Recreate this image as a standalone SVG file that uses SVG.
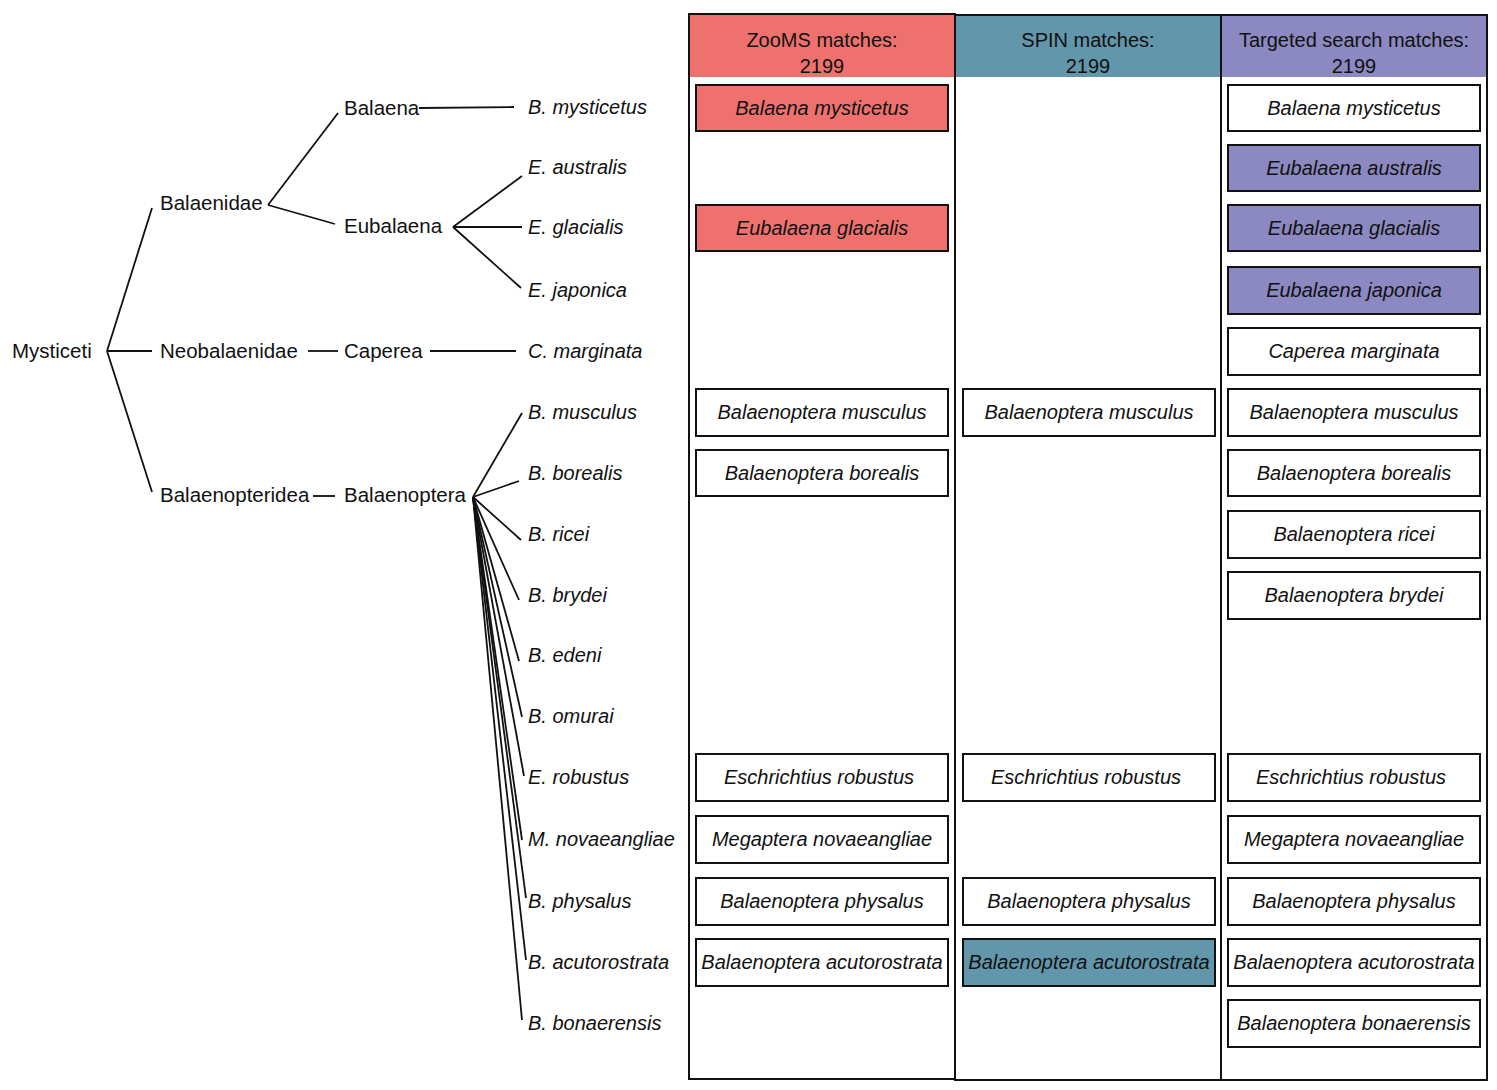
<svg xmlns="http://www.w3.org/2000/svg" width="1497" height="1090" viewBox="0 0 1497 1090">
<style>
.t{font-family:"Liberation Sans",Arial,sans-serif;font-size:20.5px;fill:#111}
.i{font-family:"Liberation Sans",Arial,sans-serif;font-size:20px;font-style:italic;fill:#111;text-anchor:middle}
.lf{font-family:"Liberation Sans",Arial,sans-serif;font-size:20px;font-style:italic;fill:#111}
.h{font-family:"Liberation Sans",Arial,sans-serif;font-size:20px;fill:#111;text-anchor:middle}
.b{stroke:#111;stroke-width:2;fill:#fff}
.r{fill:#EE716D}
.g{fill:#6296AB}
.p{fill:#8C88C1}
.col{fill:none;stroke:#111;stroke-width:2}
.c line{stroke:#111;stroke-width:1.8}
</style>
<rect width="1497" height="1090" fill="#fff"/>
<g id="columns">
<rect x="689" y="15" width="266" height="62" class="r"/>
<rect x="955" y="15" width="266" height="62" class="g"/>
<rect x="1221" y="15" width="266" height="62" class="p"/>
<rect x="689" y="14" width="266" height="1065" class="col"/>
<rect x="955" y="15" width="266" height="1065" class="col"/>
<rect x="1221" y="15" width="266" height="1065" class="col"/>
<text class="h" x="822" y="47">ZooMS matches:</text>
<text class="h" x="822" y="73">2199</text>
<text class="h" x="1088" y="47">SPIN matches:</text>
<text class="h" x="1088" y="73">2199</text>
<text class="h" x="1354" y="47">Targeted search matches:</text>
<text class="h" x="1354" y="73">2199</text>
</g>
<g id="tree-connectors" class="c">
<line x1="107" y1="351" x2="152" y2="208"/>
<line x1="107" y1="351" x2="152" y2="351"/>
<line x1="107" y1="351" x2="152" y2="492"/>
<line x1="268" y1="205" x2="338" y2="113"/>
<line x1="268" y1="205" x2="335" y2="224"/>
<line x1="419" y1="108" x2="514" y2="107"/>
<line x1="453" y1="227" x2="522" y2="176"/>
<line x1="453" y1="227" x2="522" y2="227"/>
<line x1="453" y1="227" x2="521" y2="288"/>
<line x1="308" y1="351" x2="338" y2="351"/>
<line x1="430" y1="351" x2="516" y2="351"/>
<line x1="313" y1="496" x2="335" y2="496"/>
<line x1="473" y1="497" x2="522" y2="413"/>
<line x1="473" y1="497" x2="519" y2="481"/>
<line x1="473" y1="497" x2="521" y2="540"/>
<line x1="473" y1="497" x2="519" y2="600"/>
<line x1="473" y1="497" x2="519" y2="661"/>
<line x1="473" y1="497" x2="522" y2="717"/>
<line x1="473" y1="497" x2="524" y2="776"/>
<line x1="473" y1="497" x2="522" y2="840"/>
<line x1="473" y1="497" x2="526" y2="898"/>
<line x1="473" y1="497" x2="526" y2="960"/>
<line x1="473" y1="497" x2="522" y2="1020"/>
</g>
<g id="tree-nodes">
<text class="t" x="12" y="358">Mysticeti</text>
<text class="t" x="160" y="210">Balaenidae</text>
<text class="t" x="160" y="358">Neobalaenidae</text>
<text class="t" x="160" y="502">Balaenopteridea</text>
<text class="t" x="344" y="115">Balaena</text>
<text class="t" x="344" y="233">Eubalaena</text>
<text class="t" x="344" y="358">Caperea</text>
<text class="t" x="344" y="502">Balaenoptera</text>
</g>
<g id="leaves">
<text class="lf" x="528" y="114">B. mysticetus</text>
<text class="lf" x="528" y="174">E. australis</text>
<text class="lf" x="528" y="234">E. glacialis</text>
<text class="lf" x="528" y="297">E. japonica</text>
<text class="lf" x="528" y="358">C. marginata</text>
<text class="lf" x="528" y="419">B. musculus</text>
<text class="lf" x="528" y="480">B. borealis</text>
<text class="lf" x="528" y="541">B. ricei</text>
<text class="lf" x="528" y="602">B. brydei</text>
<text class="lf" x="528" y="662">B. edeni</text>
<text class="lf" x="528" y="723">B. omurai</text>
<text class="lf" x="528" y="784">E. robustus</text>
<text class="lf" x="528" y="846">M. novaeangliae</text>
<text class="lf" x="528" y="908">B. physalus</text>
<text class="lf" x="528" y="969">B. acutorostrata</text>
<text class="lf" x="528" y="1030">B. bonaerensis</text>
</g>
<g id="zooms-boxes">
<g id="z1"><rect x="696" y="85" width="252" height="46" class="b r"/><text class="i" x="822" y="115">Balaena mysticetus</text></g>
<g id="z3"><rect x="696" y="205" width="252" height="46" class="b r"/><text class="i" x="822" y="235">Eubalaena glacialis</text></g>
<g id="z6"><rect x="696" y="389" width="252" height="47" class="b"/><text class="i" x="822" y="419">Balaenoptera musculus</text></g>
<g id="z7"><rect x="696" y="450" width="252" height="46" class="b"/><text class="i" x="822" y="480">Balaenoptera borealis</text></g>
<g id="z12"><rect x="696" y="754" width="252" height="47" class="b"/><text class="i" x="819" y="784">Eschrichtius robustus</text></g>
<g id="z13"><rect x="696" y="816" width="252" height="47" class="b"/><text class="i" x="822" y="846">Megaptera novaeangliae</text></g>
<g id="z14"><rect x="696" y="878" width="252" height="47" class="b"/><text class="i" x="822" y="908">Balaenoptera physalus</text></g>
<g id="z15"><rect x="696" y="939" width="252" height="47" class="b"/><text class="i" x="822" y="969">Balaenoptera acutorostrata</text></g>
</g>
<g id="spin-boxes">
<g id="s6"><rect x="963" y="389" width="252" height="47" class="b"/><text class="i" x="1089" y="419">Balaenoptera musculus</text></g>
<g id="s12"><rect x="963" y="754" width="252" height="47" class="b"/><text class="i" x="1086" y="784">Eschrichtius robustus</text></g>
<g id="s14"><rect x="963" y="878" width="252" height="47" class="b"/><text class="i" x="1089" y="908">Balaenoptera physalus</text></g>
<g id="s15"><rect x="963" y="939" width="252" height="47" class="b g"/><text class="i" x="1089" y="969">Balaenoptera acutorostrata</text></g>
</g>
<g id="targeted-boxes">
<g id="t1"><rect x="1228" y="85" width="252" height="46" class="b"/><text class="i" x="1354" y="115">Balaena mysticetus</text></g>
<g id="t2"><rect x="1228" y="145" width="252" height="46" class="b p"/><text class="i" x="1354" y="175">Eubalaena australis</text></g>
<g id="t3"><rect x="1228" y="205" width="252" height="46" class="b p"/><text class="i" x="1354" y="235">Eubalaena glacialis</text></g>
<g id="t4"><rect x="1228" y="267" width="252" height="47" class="b p"/><text class="i" x="1354" y="297">Eubalaena japonica</text></g>
<g id="t5"><rect x="1228" y="328" width="252" height="47" class="b"/><text class="i" x="1354" y="358">Caperea marginata</text></g>
<g id="t6"><rect x="1228" y="389" width="252" height="47" class="b"/><text class="i" x="1354" y="419">Balaenoptera musculus</text></g>
<g id="t7"><rect x="1228" y="450" width="252" height="46" class="b"/><text class="i" x="1354" y="480">Balaenoptera borealis</text></g>
<g id="t8"><rect x="1228" y="511" width="252" height="47" class="b"/><text class="i" x="1354" y="541">Balaenoptera ricei</text></g>
<g id="t9"><rect x="1228" y="572" width="252" height="47" class="b"/><text class="i" x="1354" y="602">Balaenoptera brydei</text></g>
<g id="t12"><rect x="1228" y="754" width="252" height="47" class="b"/><text class="i" x="1351" y="784">Eschrichtius robustus</text></g>
<g id="t13"><rect x="1228" y="816" width="252" height="47" class="b"/><text class="i" x="1354" y="846">Megaptera novaeangliae</text></g>
<g id="t14"><rect x="1228" y="878" width="252" height="47" class="b"/><text class="i" x="1354" y="908">Balaenoptera physalus</text></g>
<g id="t15"><rect x="1228" y="939" width="252" height="47" class="b"/><text class="i" x="1354" y="969">Balaenoptera acutorostrata</text></g>
<g id="t16"><rect x="1228" y="1000" width="252" height="47" class="b"/><text class="i" x="1354" y="1030">Balaenoptera bonaerensis</text></g>
</g>
</svg>
